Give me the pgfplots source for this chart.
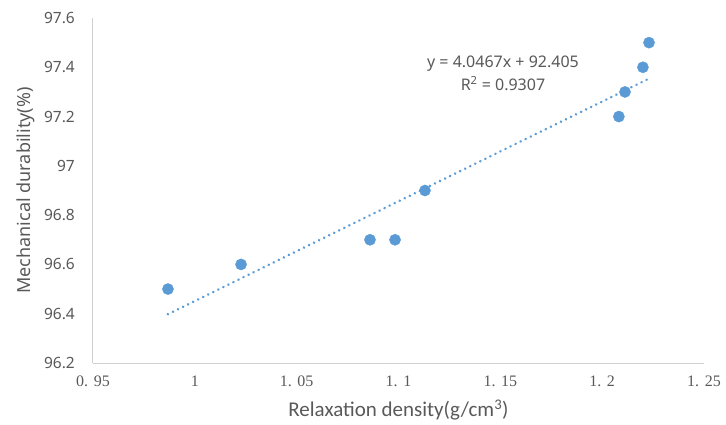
\documentclass[border=0pt]{standalone}
\usepackage{pgfplots}
\pgfplotsset{compat=1.18}
\usepackage{fontspec}
\setmainfont{Carlito}
\newfontfamily\tickserif{Liberation Serif}
\newfontfamily\uisans{Noto Sans}
\definecolor{xlblue}{HTML}{5B9BD5}
\definecolor{xltext}{HTML}{595959}
\definecolor{xlaxis}{HTML}{D0D0D0}

\begin{document}
\begin{tikzpicture}
\begin{axis}[
  at={(0,0)}, anchor=origin,
  scale only axis, width=611bp, height=345bp,
  xmin=0.95, xmax=1.25, ymin=96.2, ymax=97.6,
  axis x line*=bottom, axis y line*=left,
  axis line style={xlaxis, line width=1bp},
  major tick length=0pt,
  xtick={0.95,1,1.05,1.1,1.15,1.2,1.25},
  xticklabels={0.\hspace{0.35em}95, 1, 1.\hspace{0.35em}05, 1.\hspace{0.35em}1, 1.\hspace{0.35em}15, 1.\hspace{0.35em}2, 1.\hspace{0.35em}25},
  x tick label style={font=\tickserif\fontsize{16bp}{18bp}\selectfont, text=xltext, yshift=-9bp},
  ytick={96.2,96.4,96.6,96.8,97,97.2,97.4,97.6},
  yticklabels={96.2,96.4,96.6,96.8,97,97.2,97.4,97.6},
  y tick label style={font=\uisans\fontsize{15.5bp}{18bp}\selectfont, text=xltext, inner sep=0pt, anchor=east, xshift=-18bp},
  xlabel={Relaxation density(g/cm\textsuperscript{3})},
  ylabel={Mechanical durability(\%)},
  xlabel style={font=\fontsize{21bp}{24bp}\selectfont, text=xltext, at={(axis description cs:0.5,0)}, anchor=center, yshift=-47bp},
  ylabel style={font=\uisans\fontsize{18bp}{21bp}\selectfont, text=xltext, at={(axis description cs:-0.1097,0.5)}, anchor=center},
  clip=false,
]
\addplot[xlblue, line width=2.8bp, line cap=round, dash pattern=on 0.01bp off 5.6bp]
  coordinates {(0.9868,96.398)(1.2230,97.354)};
\addplot[only marks, mark=*, mark size=5.6bp, mark options={draw=xlblue, fill=xlblue}]
  coordinates {
  (0.9868,96.5)(1.0227,96.6)(1.0860,96.7)(1.0983,96.7)(1.1130,96.9)
  (1.2082,97.2)(1.2112,97.3)(1.2200,97.4)(1.2230,97.5)};
\node[font=\uisans\fontsize{16bp}{23bp}\selectfont, text=xltext, align=center]
  at (axis cs:1.1513,97.375) {y = 4.0467x + 92.405\\R\textsuperscript{2} = 0.9307};
\end{axis}
\useasboundingbox (-93bp,-62bp) rectangle (633bp,363bp);
\end{tikzpicture}
\end{document}
